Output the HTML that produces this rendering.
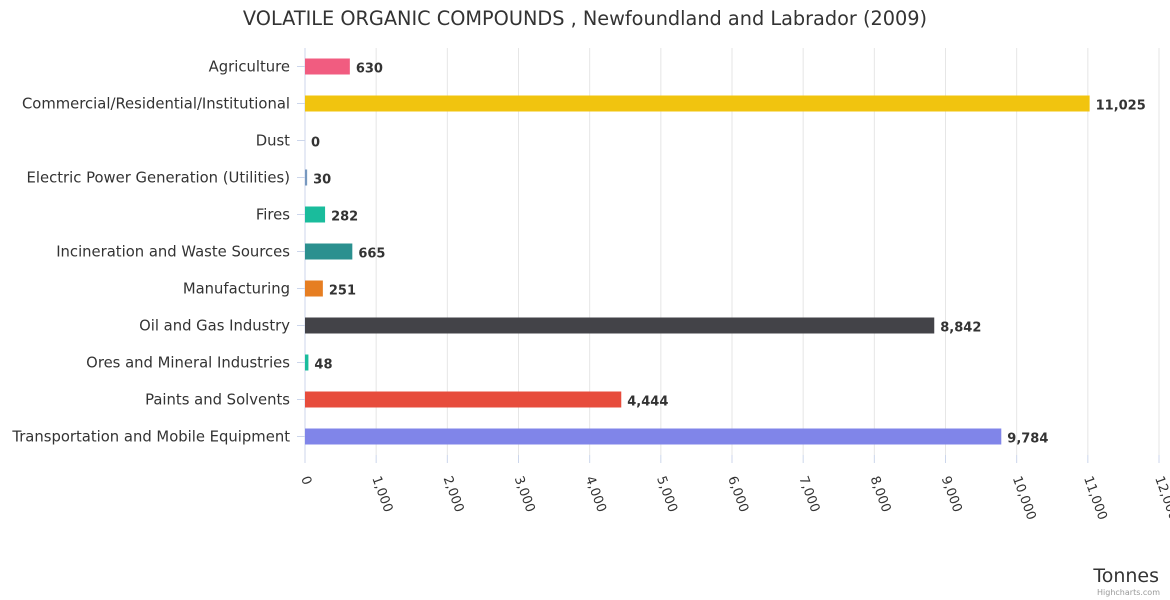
<!DOCTYPE html>
<html><head><meta charset="utf-8"><style>
body{margin:0;background:#fff;}
svg{display:block;font-family:"DejaVu Sans","Liberation Sans",sans-serif;}
</style></head><body>
<svg id="chart" width="1170" height="600">
<text x="585" y="25" text-anchor="middle" font-size="19.3" fill="#333">VOLATILE ORGANIC COMPOUNDS , Newfoundland and Labrador (2009)</text>
<text x="1159" y="582" text-anchor="end" font-size="19" fill="#333">Tonnes</text>
<text x="1160" y="595" text-anchor="end" font-size="8" fill="#999">Highcharts.com</text>
</svg>
<script>
const categories=["Agriculture","Commercial/Residential/Institutional","Dust","Electric Power Generation (Utilities)","Fires","Incineration and Waste Sources","Manufacturing","Oil and Gas Industry","Ores and Mineral Industries","Paints and Solvents","Transportation and Mobile Equipment"];
const values=[630,11025,0,30,282,665,251,8842,48,4444,9784];
const colors=["#f15c80","#f1c40f","#2b908f","#7798bf","#1abc9c","#2b908f","#e67e22","#434348","#1abc9c","#e74c3c","#8085e9"];
const ticks=[0,1000,2000,3000,4000,5000,6000,7000,8000,9000,10000,11000,12000];
const NS="http://www.w3.org/2000/svg";
const svg=document.getElementById('chart');
const x0=305,x1=1159,yTop=48,rowH=37;
const xs=v=>x0+(v/12000)*(x1-x0);
const yc=i=>yTop+rowH*i+18.5;
const yBottom=yTop+rowH*categories.length;
function mk(t,a){const e=document.createElementNS(NS,t);for(const k in a)e.setAttribute(k,a[k]);svg.appendChild(e);return e;}
const fmt=v=>v.toLocaleString('en-US');
ticks.forEach(t=>{
 const x=xs(t);
 if(t>0){const g=mk('line',{x1:x,x2:x,y1:yTop,y2:yBottom,stroke:'#e6e6e6'});
 
 }
 const tk=mk('line',{x1:x,x2:x,y1:yBottom,y2:yBottom+8,stroke:'#ccd6eb'});
 
 
 const lx=x-4,ly=478;
 const l=mk('text',{x:lx,y:ly,'font-size':13,fill:'#333',transform:`rotate(70 ${lx} ${ly})`});
 l.textContent=fmt(t);
 
 
});
const ax=mk('line',{x1:x0,x2:x0,y1:yTop,y2:yBottom,stroke:'#ccd6eb'});


categories.forEach((c,i)=>{
 const y=yc(i);
 const tk=mk('line',{x1:x0-8,x2:x0,y1:y,y2:y,stroke:'#ccd6eb'});
 
 
 const l=mk('text',{x:290,y:y+5,'text-anchor':'end','font-size':14.8,fill:'#333'});
 l.textContent=c;
 
 
 const w=xs(values[i])-x0;
 const b=mk('rect',{x:x0,y:y-8,width:Math.max(w,values[i]>0?1:0),height:16,fill:colors[i]});
 
 
 const v=mk('text',{x:x0+w+6,y:y+6,'font-size':13,'font-weight':'bold',fill:'#333'});
 v.textContent=fmt(values[i]);
 
 
});
</script>
</body></html>
